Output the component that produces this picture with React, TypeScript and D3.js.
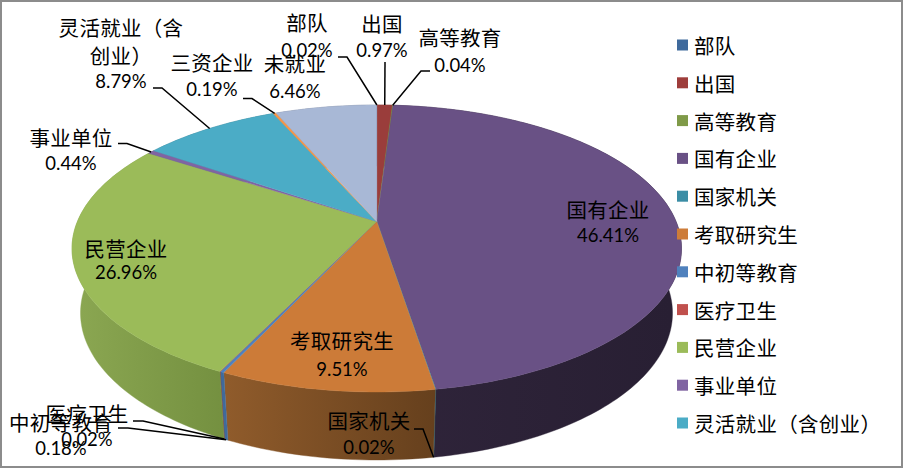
import React from "react";
import * as d3 from "d3";

const categories = [
  "部队", "出国", "高等教育", "国有企业", "国家机关", "考取研究生", "中初等教育",
  "医疗卫生", "民营企业", "事业单位", "灵活就业（含创业）", "三资企业", "未就业",
];
const shares = [0.02, 0.97, 0.04, 46.41, 0.02, 9.51, 0.18, 0.02, 26.96, 0.44, 8.79, 0.19, 6.46];
// only the first eleven fit in the legend of the original
const legendNames = categories.slice(0, 11);

const faceColors = [
  "#3f6a9c", "#9a3d3b", "#7f9a48", "#695185", "#3b8da5", "#cc7b38", "#4f81bd",
  "#c0504d", "#9bbb59", "#8064a2", "#4bacc6", "#f79646", "#a8b8d6",
];
const legendColors = [
  "#3f6a9c", "#9e3d3b", "#7f9a48", "#695185", "#3b8da5", "#cd7c39", "#4f81bd",
  "#c0504d", "#9bbb59", "#8064a2", "#4bacc6",
];
// wall shading, left and right end of each slice's side face
const wallColors: Record<string, [string, string]> = {
  国有企业: ["#2f243a", "#281f33"],
  考取研究生: ["#8f5b2b", "#66401d"],
  中初等教育: ["#3f6a9c", "#3f6a9c"],
  民营企业: ["#8aa651", "#749040"],
};

const width = 903;
const height = 468;

// label layout: centre x, line middles, and the leader's fixed points
interface Label {
  lines: string[];
  x: number;
  ys: number[];
  leader?: [number, number][];
  toBase?: boolean;
}
const labels: Record<string, Label> = {
  部队: { lines: ["部队"], x: 307, ys: [22, 50], leader: [[338, 57], [347, 57]] },
  出国: { lines: ["出国"], x: 382, ys: [23, 50], leader: [[385, 62]] },
  高等教育: { lines: ["高等教育"], x: 460, ys: [37, 65], leader: [[430, 71], [421, 71]] },
  国有企业: { lines: ["国有企业"], x: 608, ys: [209, 235] },
  国家机关: { lines: ["国家机关"], x: 369, ys: [420, 447], leader: [[414, 429], [423, 429]], toBase: true },
  考取研究生: { lines: ["考取研究生"], x: 342, ys: [340, 369] },
  中初等教育: { lines: ["中初等教育"], x: 61, ys: [422, 448], leader: [[118, 428], [128, 428]], toBase: true },
  医疗卫生: { lines: ["医疗卫生"], x: 87, ys: [413, 439], leader: [[133, 421], [143, 421]], toBase: true },
  民营企业: { lines: ["民营企业"], x: 126, ys: [248, 272] },
  事业单位: { lines: ["事业单位"], x: 71, ys: [137, 163], leader: [[118, 143.5], [127, 143.5]] },
  灵活就业含创业: { lines: ["灵活就业（含", "创业）"], x: 121, ys: [27, 55, 81], leader: [[153, 88], [162, 88]] },
  三资企业: { lines: ["三资企业"], x: 212, ys: [62, 89], leader: [[243, 98.5], [252, 98.5]] },
  未就业: { lines: ["未就业"], x: 295, ys: [63, 91] },
};

// top and bottom rims of the pie, seen in perspective
const xTop = d3.scaleLinear().domain([-1, 1]).range([72, 681.5]);
const yTop = d3.scaleLinear().domain([-1, 1]).range([105, 392]);
const xBase = d3.scaleLinear().domain([-1, 1]).range([80.5, 672.5]);
const yBase = d3.scaleLinear().domain([-1, 1]).range([166, 460]);
const tilt = 0.189;

function unit(angle: number): [number, number] {
  const sx = Math.sin(angle);
  const sy = -Math.cos(angle);
  const w = 1 - tilt * sy;
  return [(sx * Math.sqrt(1 - tilt * tilt)) / w, (sy - tilt) / w];
}
const top = (a: number): [number, number] => {
  const [u, v] = unit(a);
  return [xTop(u), yTop(v)];
};
const base = (a: number): [number, number] => {
  const [u, v] = unit(a);
  return [xBase(u), yBase(v)];
};
const apex: [number, number] = [xTop(0), yTop(-tilt)];

const arcs = d3.pie<number>().sort(null).value((d) => d)(shares);
const line = d3.line();

function arcAngles(start: number, end: number) {
  const steps = Math.max(2, Math.ceil((end - start) / 0.02));
  return d3.range(steps + 1).map((i) => start + ((end - start) * i) / steps);
}

const cjk = '"Noto Sans CJK SC", sans-serif';
const latin = 'Lato, "Liberation Sans", sans-serif';

function labelKey(name: string) {
  return name === "灵活就业（含创业）" ? "灵活就业含创业" : name;
}

export default function App() {
  const legendY = d3.scalePoint<string>().domain(legendNames).range([45, 423]);

  return (
    <svg
      width={width}
      height={height}
      style={{ position: "absolute", left: 0, top: 0 }}
    >
      <defs>
        {arcs.map((arc, i) => {
          const shade = wallColors[categories[i]];
          if (!shade) return null;
          const xs = arcAngles(arc.startAngle, arc.endAngle).map((a) => base(a)[0]);
          return (
            <linearGradient
              key={i}
              id={`wall-${i}`}
              gradientUnits="userSpaceOnUse"
              x1={d3.min(xs)}
              x2={d3.max(xs)}
              y1={0}
              y2={0}
            >
              <stop offset="0" stopColor={shade[0]} />
              <stop offset="1" stopColor={shade[1]} />
            </linearGradient>
          );
        })}
      </defs>
      <rect x={1} y={1} width={901} height={466} fill="#fff" stroke="#8c8c8c" strokeWidth={2} />

      {/* side walls */}
      {arcs.map((arc, i) => {
        const angles = arcAngles(arc.startAngle, arc.endAngle);
        const outline = [...angles.map(top), ...angles.slice().reverse().map(base)];
        const fill = wallColors[categories[i]] ? `url(#wall-${i})` : d3.color(faceColors[i])!.darker(1).formatHex();
        return <path key={i} d={line(outline)! + "Z"} fill={fill} stroke={fill} strokeWidth={0.4} />;
      })}

      {/* top face */}
      {arcs.map((arc, i) => {
        const angles = arcAngles(arc.startAngle, arc.endAngle);
        const outline = [apex, ...angles.map(top)];
        return <path key={i} d={line(outline)! + "Z"} fill={faceColors[i]} stroke={faceColors[i]} strokeWidth={0.4} />;
      })}

      {/* leader lines */}
      {arcs.map((arc, i) => {
        const label = labels[labelKey(categories[i])];
        if (!label.leader) return null;
        const mid = (arc.startAngle + arc.endAngle) / 2;
        const end = label.toBase ? base(mid) : top(mid);
        return <path key={i} d={line([...label.leader, end])!} fill="none" stroke="#000" strokeWidth={1.5} />;
      })}

      {/* data labels */}
      {categories.map((name, i) => {
        const label = labels[labelKey(name)];
        return (
          <g key={name} fill="#000" textAnchor="middle" dominantBaseline="central">
            {label.lines.map((text, j) => (
              <text key={j} x={label.x} y={label.ys[j]} fontFamily={cjk} fontSize={20.5} letterSpacing={0.3}>
                {text}
              </text>
            ))}
            <text x={label.x} y={label.ys[label.lines.length]} fontFamily={latin} fontSize={18.5}>
              {shares[i].toFixed(2)}%
            </text>
          </g>
        );
      })}

      {/* legend */}
      {legendNames.map((name, i) => (
        <g key={name}>
          <rect x={677} y={legendY(name)! - 5.5} width={11} height={11} fill={legendColors[i]} />
          <text x={694} y={legendY(name)!} fontFamily={cjk} fontSize={20.5} letterSpacing={0.3} dominantBaseline="central">
            {name}
          </text>
        </g>
      ))}
    </svg>
  );
}
